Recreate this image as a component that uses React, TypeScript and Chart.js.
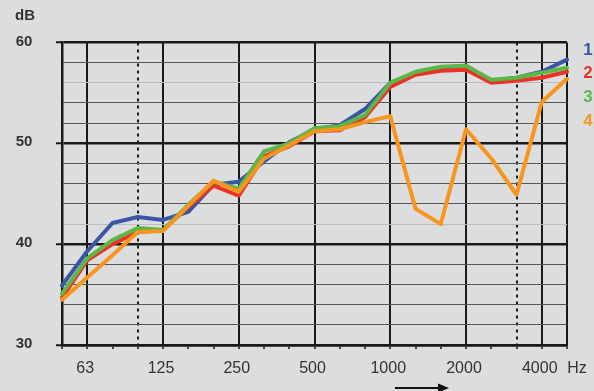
import React, { useEffect, useRef } from "react";
import { Chart, registerables } from "chart.js";

Chart.register(...registerables);

const freqLabels = ["50", "63", "80", "100", "125", "160", "200", "250", "315", "400", "500", "630", "800", "1000", "1250", "1600", "2000", "2500", "3150", "4000", "5000"];
const shownFreqLabels = ["63", "125", "250", "500", "1000", "2000", "4000"];
const dottedFreqLabels = ["100", "3150"];
const yTickLabels = [30, 40, 50, 60];

const series1 = [35.9, 39.3, 42.1, 42.7, 42.4, 43.2, 45.9, 46.2, 48.2, 50.1, 51.4, 51.8, 53.4, 56.0, 57.0, 57.5, 57.7, 56.2, 56.5, 57.1, 58.3];
const series2 = [34.7, 38.4, 40.0, 41.2, 41.4, 43.7, 45.8, 44.8, 48.7, 49.7, 51.2, 51.3, 52.6, 55.6, 56.8, 57.2, 57.3, 56.0, 56.2, 56.5, 57.1];
const series3 = [35.1, 38.6, 40.4, 41.6, 41.4, 43.9, 46.2, 45.5, 49.2, 50.0, 51.5, 51.7, 52.8, 56.0, 57.1, 57.6, 57.7, 56.3, 56.5, 57.0, 57.5];
const series4 = [34.5, 36.7, 38.9, 41.2, 41.3, 43.8, 46.3, 45.2, 48.5, 49.8, 51.2, 51.4, 52.1, 52.7, 43.5, 42.0, 51.4, 48.5, 44.9, 54.1, 56.4];

const seriesNames = ["1", "2", "3", "4"];
const seriesColors = ["#3a56a5", "#ec3226", "#5cb748", "#f7951e"];
const BG = "#dcdddf";
const TEXT = "#333333";

const decorPlugin = {
  id: "decor",
  beforeDraw(chart: any) {
    const ctx = chart.ctx;
    ctx.save();
    ctx.fillStyle = BG;
    ctx.fillRect(0, 0, chart.width, chart.height);
    ctx.restore();
  },
  afterDraw(chart: any) {
    const ctx = chart.ctx;
    const xs = chart.scales.x;
    const ys = chart.scales.y;
    ctx.save();
    ctx.fillStyle = TEXT;
    ctx.textBaseline = "middle";
    ctx.font = "bold 15px 'Liberation Sans', Arial, sans-serif";
    ctx.textAlign = "center";
    yTickLabels.forEach((v) => {
      ctx.fillText(String(v), 24, ys.getPixelForValue(v) - 1);
    });
    ctx.fillText("dB", 25, 16);
    ctx.font = "16px 'Liberation Sans', Arial, sans-serif";
    shownFreqLabels.forEach((lab) => {
      const i = freqLabels.indexOf(lab);
      ctx.fillText(lab, xs.getPixelForValue(i) - 2, 369);
    });
    ctx.fillText("Hz", 577, 369);
    ctx.font = "bold 17px 'Liberation Sans', Arial, sans-serif";
    seriesNames.forEach((n, k) => {
      ctx.fillStyle = seriesColors[k];
      ctx.fillText(n, 588, 50 + k * 23.7);
    });
    ctx.strokeStyle = "#111";
    ctx.fillStyle = "#111";
    ctx.lineWidth = 2;
    ctx.beginPath();
    ctx.moveTo(395, 388);
    ctx.lineTo(440, 388);
    ctx.stroke();
    ctx.beginPath();
    ctx.moveTo(449, 388);
    ctx.lineTo(438, 383.5);
    ctx.lineTo(438, 392.5);
    ctx.closePath();
    ctx.fill();
    ctx.restore();
  },
};

export default function App() {
  const ref = useRef<HTMLCanvasElement | null>(null);
  useEffect(() => {
    if (!ref.current) return;
    const mkDs = (data: number[], k: number) => ({
      label: seriesNames[k],
      data,
      borderColor: seriesColors[k],
      backgroundColor: seriesColors[k],
      borderWidth: 4,
      pointRadius: 0,
      tension: 0,
      borderJoinStyle: "round" as const,
      borderCapStyle: "round" as const,
    });
    const isShown = (i: number) => shownFreqLabels.includes(freqLabels[i]) || i === 0 || i === freqLabels.length - 1;
    const isDotted = (i: number) => dottedFreqLabels.includes(freqLabels[i]);
    const chart = new Chart(ref.current, {
      type: "line",
      data: {
        labels: freqLabels,
        // first dataset is drawn on top: orange over green over red over blue
        datasets: [mkDs(series4, 3), mkDs(series3, 2), mkDs(series2, 1), mkDs(series1, 0)],
      },
      options: {
        responsive: false,
        animation: false,
        devicePixelRatio: 1,
        layout: { padding: { left: 56, right: 27, top: 42.5, bottom: 42 } },
        plugins: { legend: { display: false }, tooltip: { enabled: false }, title: { display: false } },
        scales: {
          x: {
            type: "category",
            offset: false,
            ticks: { display: false },
            grid: {
              display: true,
              drawOnChartArea: true,
              drawTicks: true,
              tickLength: 4,
              tickWidth: 1.5,
              tickColor: "#1a1a1a",
              tickBorderDash: [],
              lineWidth: (c: any) => (c.index === undefined ? 0 : isShown(c.index) || isDotted(c.index) ? 2 : 0),
              color: (c: any) => (c.index === undefined ? "rgba(0,0,0,0)" : isShown(c.index) || isDotted(c.index) ? "#1a1a1a" : "rgba(0,0,0,0)"),
            },
            border: {
              display: true,
              width: 2.5,
              color: "#1a1a1a",
              dash: (c: any) => (c.index !== undefined && isDotted(c.index) ? [3, 4] : []),
            },
          },
          y: {
            type: "linear",
            min: 30,
            max: 60,
            ticks: { display: false, stepSize: 2 },
            grid: {
              display: true,
              drawTicks: true,
              tickLength: 6,
              tickWidth: 2,
              tickColor: (c: any) => (c.tick && c.tick.value % 10 === 0 ? "#1a1a1a" : "rgba(0,0,0,0)"),
              lineWidth: (c: any) => (c.tick && c.tick.value % 10 === 0 ? 2.5 : 1),
              color: (c: any) => {
                if (!c.tick) return "#555";
                const v = c.tick.value;
                if (v % 10 === 0) return "#1a1a1a";
                if (v === 42 || v === 56) return "#bdbdbd";
                return "#555555";
              },
            },
            border: { display: true, width: 2.5, color: "#1a1a1a" },
          },
        },
      },
      plugins: [decorPlugin],
    } as any);
    return () => chart.destroy();
  }, []);
  return (
    <div style={{ position: "absolute", left: 0, top: 0, width: 594, height: 391, background: BG }}>
      <canvas ref={ref} width={594} height={391} style={{ display: "block", width: 594, height: 391 }} />
    </div>
  );
}
